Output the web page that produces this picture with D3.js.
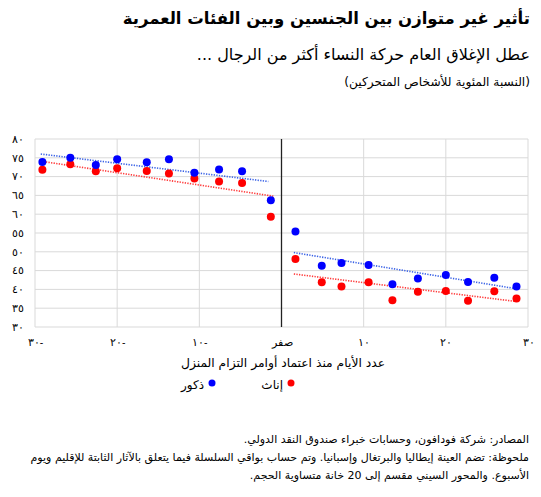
<!DOCTYPE html>
<html lang="ar">
<head>
<meta charset="utf-8">
<script src="https://cdn.jsdelivr.net/npm/d3@7"></script>
<style>
  body { margin: 0; background: #fff; }
  svg { font-family: "DejaVu Sans", sans-serif; }
  .grid line { stroke: #d9d9d9; stroke-width: 1; }
  .axis text { font-size: 10.5px; fill: #000; }
  .axis .domain, .axis line { display: none; }
</style>
</head>
<body>
<svg id="chart" width="541" height="497"></svg>
<script>
// binned averages, days since stay-home order (x) and share of people moving (y)
const daysBefore = [-29.1, -25.7, -22.6, -20.0, -16.4, -13.7, -10.6, -7.6, -4.8, -1.3];
const daysAfter = [1.7, 4.9, 7.3, 10.6, 13.5, 16.6, 20.0, 22.7, 25.9, 28.6];
const menBefore = [73.9, 75.0, 73.1, 74.6, 73.8, 74.6, 71.0, 71.9, 71.4, 63.7];
const womenBefore = [71.8, 73.3, 71.4, 72.2, 71.5, 70.8, 69.5, 68.7, 68.3, 59.3];
const menAfter = [55.4, 46.3, 47.0, 46.5, 41.4, 42.9, 43.8, 42.0, 43.1, 40.8];
const womenAfter = [48.1, 41.9, 40.8, 41.9, 37.1, 39.4, 39.6, 37.0, 39.5, 37.6];

// fitted trend end points [day, value]
const menTrend = [[[-29.3, 76.0], [-1.6, 68.7]], [[1.5, 49.8], [28.5, 40.2]]];
const womenTrend = [[[-29.3, 74.1], [-1.0, 64.8]], [[1.5, 44.1], [28.5, 36.8]]];

const yTicks = [30, 35, 40, 45, 50, 55, 60, 65, 70, 75, 80];
const xTicks = [-30, -20, -10, 0, 10, 20, 30];
const xTickLabels = ["٣٠-", "٢٠-", "١٠-", "صفر", "١٠", "٢٠", "٣٠"];

const arabicDigits = n => String(n).replace(/\d/g, d => "٠١٢٣٤٥٦٧٨٩"[d]);

const svg = d3.select("#chart");
const margin = { top: 139, left: 35, right: 13, bottom: 170 };
const width = 541 - margin.left - margin.right;
const height = 497 - margin.top - margin.bottom;

const x = d3.scaleLinear().domain([-30, 30]).range([0, width]);
const y = d3.scaleLinear().domain([30, 80]).range([height, 0]);

const colMen = "#0000ff", colWomen = "#ff0000";

// right-anchored arabic text: in rtl "start" is the right edge
function rtlText(sel, tx, ty, size, str) {
  return sel.append("text").attr("x", tx).attr("y", ty)
    .attr("direction", "rtl").attr("text-anchor", "start")
    .style("font-size", size).text(str);
}

// titles
rtlText(svg, 530, 24, "16.5px", "تأثير غير متوازن بين الجنسين وبين الفئات العمرية")
  .style("font-weight", "bold");
rtlText(svg, 530, 60, "16px", "عطل الإغلاق العام حركة النساء أكثر من الرجال ...");
rtlText(svg, 530, 86, "12.2px", "(النسبة المئوية للأشخاص المتحركين)");

const g = svg.append("g").attr("transform", `translate(${margin.left},${margin.top})`);

// gridlines
const grid = g.append("g").attr("class", "grid");
grid.selectAll(".h").data(yTicks).enter().append("line")
  .attr("x1", 0).attr("x2", width)
  .attr("y1", d => y(d)).attr("y2", d => y(d));
grid.selectAll(".v").data(xTicks.filter(d => d !== 0)).enter().append("line")
  .attr("x1", d => x(d)).attr("x2", d => x(d))
  .attr("y1", 0).attr("y2", height);

// zero line
g.append("line")
  .attr("x1", x(0)).attr("x2", x(0)).attr("y1", 0).attr("y2", height)
  .attr("stroke", "#222").attr("stroke-width", 1.3);

// axes
g.append("g").attr("class", "axis")
  .call(d3.axisLeft(y).tickValues(yTicks).tickSize(0).tickPadding(11)
    .tickFormat(arabicDigits));

g.append("g").attr("class", "axis")
  .attr("transform", `translate(0,${height})`)
  .call(d3.axisBottom(x).tickValues(xTicks).tickSize(0).tickPadding(12)
    .tickFormat((d, i) => xTickLabels[i]))
  .selectAll("text")
  .filter(d => d < 0)
  .style("unicode-bidi", "bidi-override").attr("direction", "ltr");

// trend lines
const line = d3.line().x(d => x(d[0])).y(d => y(d[1]));
[[menTrend, "#3b63e6"], [womenTrend, "#ff3b3b"]].forEach(([segs, c]) => {
  g.selectAll(null).data(segs).enter().append("path")
    .attr("d", line)
    .attr("fill", "none").attr("stroke", c)
    .attr("stroke-width", 1.6).attr("stroke-dasharray", "1.3,1.3");
});

// points
function dots(xs, ys, c) {
  g.selectAll(null).data(xs.map((d, i) => [d, ys[i]])).enter().append("circle")
    .attr("cx", d => x(d[0])).attr("cy", d => y(d[1])).attr("r", 4)
    .attr("fill", c);
}
dots(daysBefore, womenBefore, colWomen);
dots(daysAfter, womenAfter, colWomen);
dots(daysBefore, menBefore, colMen);
dots(daysAfter, menAfter, colMen);

// x axis title
svg.append("text").attr("x", 283).attr("y", 367)
  .attr("text-anchor", "middle").attr("direction", "rtl")
  .style("font-size", "12.3px")
  .text("عدد الأيام منذ اعتماد أوامر التزام المنزل");

// legend
const legend = [{ name: "إناث", c: colWomen, x: 291 }, { name: "ذكور", c: colMen, x: 212 }];
legend.forEach(d => {
  svg.append("circle").attr("cx", d.x).attr("cy", 383).attr("r", 3.5).attr("fill", d.c);
  rtlText(svg, d.x - 8, 389, "12px", d.name);
});

// notes
const notes = [
  "المصادر: شركة فودافون، وحسابات خبراء صندوق النقد الدولي.",
  "ملحوظة: تضم العينة إيطاليا والبرتغال وإسبانيا. وتم حساب بواقي السلسلة فيما يتعلق بالآثار الثابتة للإقليم ويوم",
  "الأسبوع. والمحور السيني مقسم إلى 20 خانة متساوية الحجم."
];
notes.forEach((d, i) => rtlText(svg, 529, 443 + i * 18, "11px", d));
</script>
</body>
</html>
